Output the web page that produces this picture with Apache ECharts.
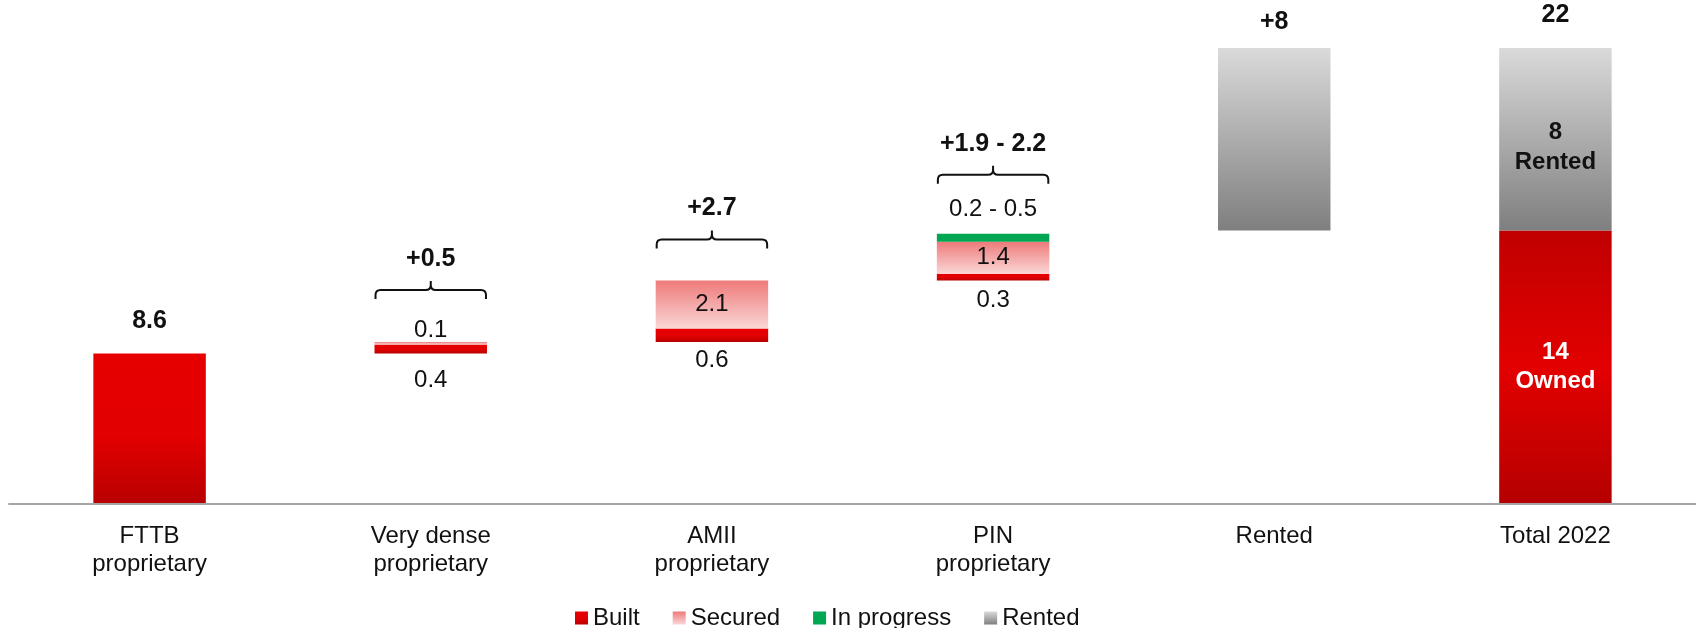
<!DOCTYPE html>
<html>
<head>
<meta charset="utf-8">
<title>Fibre footprint build-up</title>
<script src="https://cdn.jsdelivr.net/npm/echarts@6/dist/echarts.min.js"></script>
<style>
  html, body { margin: 0; padding: 0; background: #ffffff; }
  #chart { width: 1696px; height: 628px; }
</style>
</head>
<body>
<div id="chart"></div>
<script>
// ---- data (millions of homes) ----
const categories = ['FTTB\nproprietary', 'Very dense\nproprietary', 'AMII\nproprietary', 'PIN\nproprietary', 'Rented', 'Total 2022'];
const built      = [8.6, 0.4, 0.6, 0.3, null, null];
const secured    = [null, 0.1, 2.1, 1.4, null, null];
const inProgress = [null, null, null, 0.35, null, null];
const inProgressText = '0.2 - 0.5';
const owned      = [null, null, null, null, null, 14];
const rented     = [null, null, null, null, 8, 8];
const headerLabels = ['8.6', '+0.5', '+2.7', '+1.9 - 2.2', '+8', '22'];
const bracketed    = [false, true, true, true, false, false];

// ---- presentation constants ----
const FONT = '"Liberation Sans", Arial, Helvetica, sans-serif';
const headerGap   = [32, 0, 0, 0, 26, 33];   // px from bar top to header text centre
const bracketLift = [0, 43, 32, 50, 0, 0];   // px from bar top to brace feet
const belowGap    = [0, 15, 6, 8, 0, 0];     // px between bar bottom and value label
const aboveGap    = [0, 0, 0, 12, 0, 0];     // px between bar top and value label

const num = v => (v == null ? 0 : v);

// invisible base of each floating bar
const base = [];
let running = 0;
for (let i = 0; i < 4; i++) {
  base[i] = running;
  running += num(built[i]) + num(secured[i]) + num(inProgress[i]);
}
base[4] = owned[5];   // rented capacity sits on top of the owned total
base[5] = 0;

const tops = categories.map((_, i) =>
  base[i] + num(built[i]) + num(secured[i]) + num(inProgress[i]) + num(owned[i]) + num(rented[i]));

const grad = stops => ({
  type: 'linear', x: 0, y: 0, x2: 0, y2: 1,
  colorStops: stops.map(([offset, color]) => ({ offset, color }))
});

const builtColor   = grad([[0, '#e60000'], [0.55, '#e20000'], [1, '#b80000']]);
const ownedColor   = grad([[0, '#c00000'], [0.5, '#e30000'], [1, '#b50000']]);
const securedColor = grad([[0, '#ee7a7a'], [0.5, '#f4a8a8'], [1, '#fbd6d6']]);
const greenColor   = '#00a651';
const rentedColor  = grad([[0, '#dadada'], [1, '#7f7f7f']]);

const valueLabel = { fontFamily: FONT, fontSize: 24, color: '#111111' };

const BAR_RATIO = 0.4;

const chart = echarts.init(document.getElementById('chart'), null, { renderer: 'canvas' });

const option = {
  backgroundColor: '#ffffff',
  animation: false,
  grid: { left: 9, right: 0, top: 48, bottom: 124, containLabel: false, outerBoundsMode: 'none' },
  legend: {
    data: ['Built', 'Secured', 'In progress', 'Rented'],
    left: 575,
    top: 606,
    padding: 0,
    itemWidth: 13,
    itemHeight: 13,
    itemGap: 33,
    icon: 'rect',
    textStyle: { fontFamily: FONT, fontSize: 24, color: '#111111', padding: [0, 0, 0, 0] }
  },
  xAxis: {
    type: 'category',
    data: categories,
    z: 5,
    axisLine: { show: true, lineStyle: { color: '#a6a6a6', width: 2 } },
    axisTick: { show: false },
    axisLabel: { fontFamily: FONT, fontSize: 24, lineHeight: 28, color: '#111111', margin: 18, interval: 0 },
    splitLine: { show: false }
  },
  yAxis: {
    type: 'value',
    min: 0,
    max: 22,
    show: false,
    splitLine: { show: false },
    // the lower part of the long first bar is condensed so the small steps stay readable
    breaks: [{ start: 3, end: 5, gap: 0 }],
    breakArea: { show: false, itemStyle: { opacity: 0 } }
  },
  series: [
    {
      name: 'base', type: 'bar', stack: 'wf', silent: true,
      barWidth: (BAR_RATIO * 100) + '%',
      itemStyle: { color: 'rgba(0,0,0,0)' },
      data: base
    },
    {
      name: 'Built', type: 'bar', stack: 'wf',
      barWidth: (BAR_RATIO * 100) + '%',
      itemStyle: { color: builtColor },
      data: built.map((v, i) => v == null ? '-' : {
        value: v,
        label: i === 0 ? { show: false } : Object.assign({
          show: true, position: 'bottom', distance: belowGap[i]
        }, valueLabel)
      })
    },
    {
      name: 'Secured', type: 'bar', stack: 'wf',
      barWidth: (BAR_RATIO * 100) + '%',
      itemStyle: { color: securedColor },
      data: secured.map((v, i) => v == null ? '-' : {
        value: v,
        label: Object.assign({
          show: true,
          position: v < 0.5 ? 'top' : 'inside',
          distance: aboveGap[i]
        }, valueLabel)
      })
    },
    {
      name: 'In progress', type: 'bar', stack: 'wf',
      barWidth: (BAR_RATIO * 100) + '%',
      itemStyle: { color: greenColor },
      data: inProgress.map((v, i) => v == null ? '-' : {
        value: v,
        label: Object.assign({
          show: true, position: 'top', distance: aboveGap[i], formatter: inProgressText
        }, valueLabel)
      })
    },
    {
      name: 'Owned', type: 'bar', stack: 'wf',
      barWidth: (BAR_RATIO * 100) + '%',
      itemStyle: { color: ownedColor },
      data: owned.map(v => v == null ? '-' : {
        value: v,
        label: {
          show: true, position: 'inside', fontFamily: FONT, fontSize: 24, fontWeight: 'bold',
          lineHeight: 29, color: '#ffffff', offset: [0, 0], formatter: p => p.value + '\nOwned'
        }
      })
    },
    {
      name: 'Rented', type: 'bar', stack: 'wf',
      barWidth: (BAR_RATIO * 100) + '%',
      itemStyle: { color: rentedColor },
      data: rented.map((v, i) => v == null ? '-' : {
        value: v,
        label: i === categories.length - 1 ? {
          show: true, position: 'inside', fontFamily: FONT, fontSize: 24, fontWeight: 'bold',
          lineHeight: 30, color: '#111111', offset: [0, 8], formatter: p => p.value + '\nRented'
        } : { show: false }
      })
    },
    {
      // headline increments with curly braces above the floating bars
      name: 'headers', type: 'custom', silent: true, z: 10, clip: false,
      data: tops.map((t, i) => [i, t]),
      encode: { x: 0, y: 1 },
      renderItem: (params, api) => {
        const i = params.dataIndex;
        const pt = api.coord([api.value(0), api.value(1)]);
        const cx = pt[0];
        const w = api.size([1, 0])[0] * BAR_RATIO;
        const children = [];
        let textY;
        if (bracketed[i]) {
          const x0 = cx - w / 2 + 1, x1 = cx + w / 2 - 1;
          const yE = pt[1] - bracketLift[i];
          const yH = yE - 9;
          const yT = yH - 9;
          const r = 5;
          const d = [
            'M', x0, yE, 'L', x0, yH + r, 'Q', x0, yH, x0 + r, yH,
            'L', cx - r, yH, 'Q', cx, yH, cx, yH - r, 'L', cx, yT,
            'M', cx, yH - r, 'Q', cx, yH, cx + r, yH,
            'L', x1 - r, yH, 'Q', x1, yH, x1, yH + r, 'L', x1, yE
          ].join(' ');
          children.push({
            type: 'path',
            shape: { pathData: d, x: x0, y: yT, width: x1 - x0, height: yE - yT, layout: 'cover' },
            style: { stroke: '#111111', lineWidth: 2, fill: null }
          });
          textY = yT - 22;
        } else {
          textY = pt[1] - headerGap[i];
        }
        children.push({
          type: 'text',
          x: cx, y: textY,
          style: {
            text: headerLabels[i],
            fill: '#111111',
            fontFamily: FONT, fontSize: 25, fontWeight: 'bold',
            align: 'center', verticalAlign: 'middle'
          }
        });
        return { type: 'group', children };
      }
    }
  ]
};

chart.setOption(option);
</script>
</body>
</html>
